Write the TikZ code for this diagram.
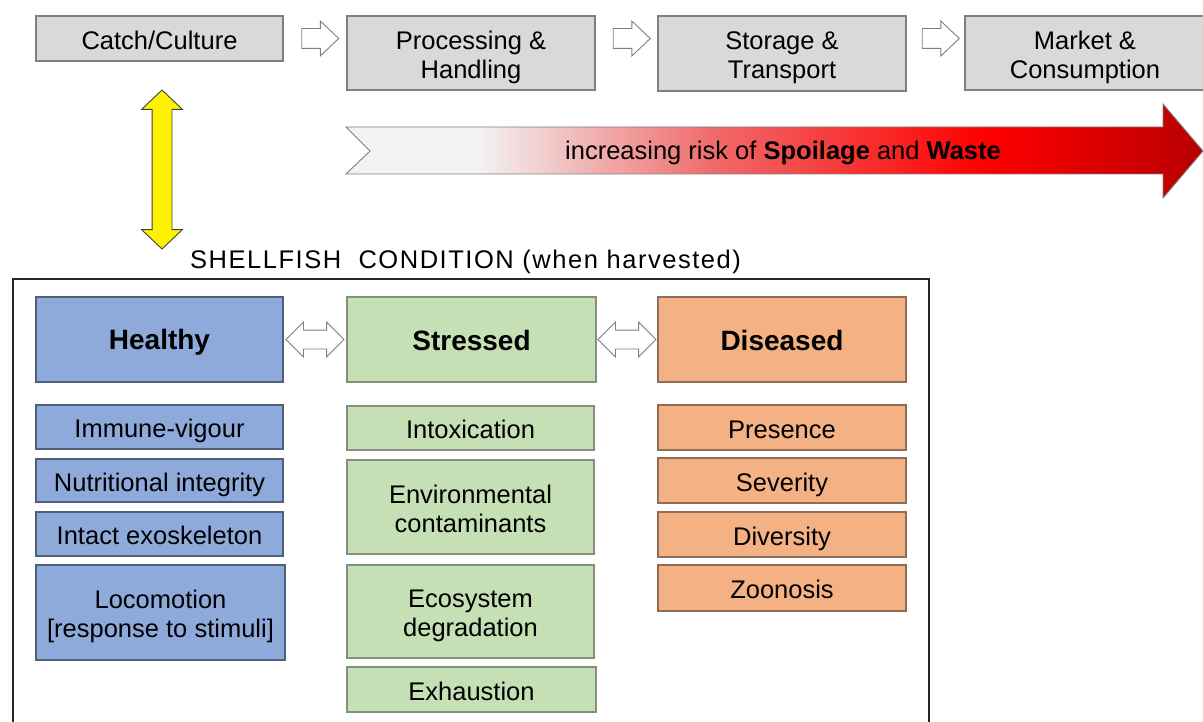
\documentclass[tikz,border=0pt]{standalone}
\usepackage{fontspec}
\setmainfont{Liberation Sans}
\usetikzlibrary{shapes.arrows,calc}
\definecolor{stagefill}{HTML}{D9D9D9}
\definecolor{stagedraw}{HTML}{7F7F7F}
\definecolor{bluefill}{HTML}{8EAADB}
\definecolor{bluedraw}{HTML}{4F5F7C}
\definecolor{greenfill}{HTML}{C5E0B4}
\definecolor{greendraw}{HTML}{858F80}
\definecolor{orangefill}{HTML}{F4B183}
\definecolor{orangedraw}{HTML}{8F6D58}
\definecolor{riskA}{HTML}{F2F2F2}
\definecolor{riskB}{HTML}{F06A6A}
\definecolor{riskC}{HTML}{FF0000}
\definecolor{riskD}{HTML}{B80000}
\pgfdeclarehorizontalshading{riskshade}{100bp}{color(0bp)=(riskA); color(25bp)=(riskA); color(32.8bp)=(riskA); color(46.5bp)=(riskB); color(62.2bp)=(riskC); color(75bp)=(riskD); color(100bp)=(riskD)}
\newcommand\nstrut{\rule[-5.1pt]{0pt}{31.8pt}}
\newcommand\topstrut{\rule{0pt}{26.7pt}}
\newcommand\botstrut{\rule[-5.1pt]{0pt}{5.1pt}}
\newcommand\bstrut{\rule[-5.6pt]{0pt}{32.2pt}}
\newcommand\twolines[2]{\topstrut #1\\{}#2\botstrut}
\tikzset{
  txt/.style={font=\fontsize{25.5}{29}\selectfont, text=black, align=center},
  boldtxt/.style={font=\fontsize{28}{32}\selectfont\bfseries, text=black, align=center},
  cell/.style={rectangle, inner sep=0pt, line width=1.2pt},
  ncell/.style={cell, txt, execute at begin node={\nstrut}, execute at end node={\nstrut}},
  bcell/.style={cell, boldtxt, execute at begin node={\bstrut}, execute at end node={\bstrut}},
  stagebox/.style={ncell, fill=stagefill, draw=stagedraw},
  bluebox/.style={ncell, fill=bluefill, draw=bluedraw},
  greenbox/.style={ncell, fill=greenfill, draw=greendraw},
  orangebox/.style={ncell, fill=orangefill, draw=orangedraw},
  bluehead/.style={bcell, fill=bluefill, draw=bluedraw},
  greenhead/.style={bcell, fill=greenfill, draw=greendraw},
  orangehead/.style={bcell, fill=orangefill, draw=orangedraw},
  flowarrow/.style={single arrow, draw=stagedraw, fill=white, line width=0.9pt,
    inner xsep=0pt, inner ysep=9.5pt,
    minimum height=37pt, single arrow head extend=7.5pt, single arrow tip angle=87},
  twoway/.style={double arrow, draw=stagedraw, fill=white, line width=0.9pt,
    inner xsep=0pt, inner ysep=9pt,
    minimum height=58pt, double arrow head extend=8pt, double arrow tip angle=90},
}
\begin{document}
\begin{tikzpicture}[x=1pt,y=-1pt]
\useasboundingbox (0,0) rectangle (1203,722);
\clip (0,0) rectangle (1203,722);

% supply chain stages
\node[stagebox, minimum width=247pt, minimum height=45pt] (catch) at (159.5,38.5) {Catch/Culture};
\node[stagebox, minimum width=248pt, minimum height=74pt] (proc) at (471,53) {\twolines{Processing \&}{Handling}};
\node[stagebox, minimum width=248pt, minimum height=75pt] (stor) at (782,53.5) {\twolines{Storage \&}{Transport}};
\node[stagebox, minimum width=240pt, minimum height=74pt] (market) at (1085,53) {\twolines{Market \&}{Consumption}};

\coordinate (m1) at ($(catch.east)!.5!(proc.west)$);
\coordinate (m2) at ($(proc.east)!.5!(stor.west)$);
\coordinate (m3) at ($(stor.east)!.5!(market.west)$);
\node[flowarrow] (a1) at (m1 |- catch.east) {};
\node[flowarrow] (a2) at (m2 |- catch.east) {};
\node[flowarrow] (a3) at (m3 |- catch.east) {};

% risk arrow
\path[shade, shading=riskshade, draw=stagedraw, line width=0.9pt]
  (346,127) -- (1163,127) -- (1163,104) -- (1203,151) -- (1163,198) -- (1163,174)
  -- (346,174) -- (370,151) -- cycle;
\node[txt, anchor=center] (risk) at (783,153) {increasing risk of \textbf{Spoilage} and \textbf{Waste}};

% yellow two-way arrow
\node[double arrow, draw=black!75, fill=yellow, line width=0.9pt, rotate=90,
  inner xsep=0pt, inner ysep=9.5pt,
  minimum height=159pt, double arrow head extend=10.5pt, double arrow tip angle=93]
  (ylw) at (162,169.5) {};

% condition frame
\node[txt, anchor=base west, inner sep=0pt] (title) at (190,269)
  {\addfontfeatures{LetterSpace=6}SHELLFISH\ \ CONDITION (when harvested)};
\draw[line width=1.6pt, black!85] (13,760) -- (13,279) -- (929,279) -- (929,760);

% condition headers
\node[bluehead, minimum width=247pt, minimum height=85pt] (healthy) at (159.5,339.5) {Healthy};
\node[greenhead, minimum width=249pt, minimum height=85pt] (stressed) at (471.5,339.5) {Stressed};
\node[orangehead, minimum width=248pt, minimum height=85pt] (diseased) at (782,339.5) {Diseased};

\node[twoway] (d1) at ($(healthy.east)!.5!(stressed.west)$) {};
\node[twoway] (d2) at ($(stressed.east)!.5!(diseased.west)$) {};

% healthy items
\node[bluebox, minimum width=247pt, minimum height=44pt] (h1) at (159.5,427) {Immune-vigour};
\node[bluebox, minimum width=247pt, minimum height=43pt] (h2) at (159.5,480.5) {Nutritional integrity};
\node[bluebox, minimum width=247pt, minimum height=44pt] (h3) at (159.5,534) {Intact exoskeleton};
\node[bluebox, minimum width=249pt, minimum height=95pt] (h4) at (160.5,612.5) {\twolines{Locomotion}{[response to stimuli]}};

% stressed items
\node[greenbox, minimum width=247pt, minimum height=44pt] (s1) at (470.5,428) {Intoxication};
\node[greenbox, minimum width=247pt, minimum height=94pt] (s2) at (470.5,507) {\twolines{Environmental}{contaminants}};
\node[greenbox, minimum width=247pt, minimum height=93pt] (s3) at (470.5,611.5) {\twolines{Ecosystem}{degradation}};
\node[greenbox, minimum width=249pt, minimum height=45pt] (s4) at (471.5,689.5) {Exhaustion};

% diseased items
\node[orangebox, minimum width=248pt, minimum height=45pt] (e1) at (782,427.5) {Presence};
\node[orangebox, minimum width=248pt, minimum height=45pt] (e2) at (782,480.5) {Severity};
\node[orangebox, minimum width=248pt, minimum height=45pt] (e3) at (782,534.5) {Diversity};
\node[orangebox, minimum width=248pt, minimum height=46pt] (e4) at (782,588) {Zoonosis};
\end{tikzpicture}
\end{document}
